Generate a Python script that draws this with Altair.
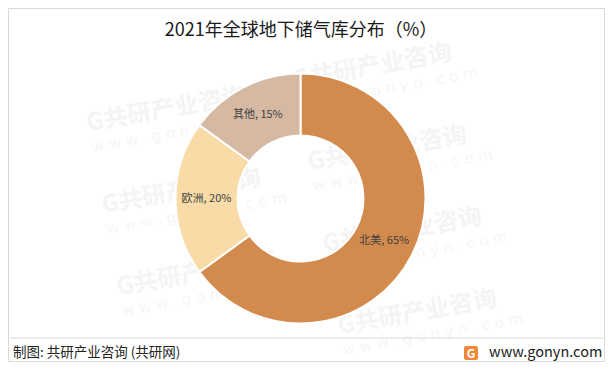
import altair as alt
import pandas as pd

categories = ["北美", "欧洲", "其他"]
shares = [65, 20, 15]
colors = ["#D38B4D", "#F8DBA7", "#D5B9A3"]
title_text = "2021年全球地下储气库分布（%）"
source_text = "制图: 共研产业咨询 (共研网)"
site_text = "www.gonyn.com"
wm_text = "G共研产业咨询"
wm_url = "w w w . g o n y n . c o m"

# watermark anchors (decoration, page pixels)
wm_x = [79, 94, 109, 285, 300, 315, 330]
wm_y = [116, 198, 280, 73, 155, 237, 319]

df = pd.DataFrame({"cat": categories, "share": shares, "order": list(range(len(categories)))})
df["label"] = [f"{c}, {v}%" for c, v in zip(categories, shares)]
wm = pd.DataFrame({"x": wm_x, "y": wm_y})
wm["ux"] = wm["x"] + 5
wm["uy"] = wm["y"] + 23

W, H = 597, 354
CX, CY = 292.5, 190.5
FONT = "Noto Sans CJK SC"
one = alt.Data(values=[{"a": 1}])

wm_main = alt.Chart(wm).mark_text(
    fontSize=24, font=FONT, fontWeight="bold", color="#F4F4F4", align="left", baseline="middle", angle=350
).encode(x=alt.X("x:Q", scale=None), y=alt.Y("y:Q", scale=None), text=alt.value(wm_text))
wm_sub = alt.Chart(wm).mark_text(
    fontSize=15, font="DejaVu Sans", color="#F6F6F6", align="left", baseline="middle", angle=350
).encode(x=alt.X("ux:Q", scale=None), y=alt.Y("uy:Q", scale=None), text=alt.value(wm_url))

base = alt.Chart(df).encode(
    theta=alt.Theta("share:Q", stack=True),
    order=alt.Order("order:Q"),
)
arcs = base.mark_arc(innerRadius=63, outerRadius=125, stroke="white", strokeWidth=2).encode(
    color=alt.Color("cat:N", scale=alt.Scale(domain=categories, range=colors), legend=None),
    x=alt.value(CX), y=alt.value(CY),
)
labels = base.mark_text(radius=94, fontSize=11, font=FONT, color="#404040").encode(
    text="label:N", x=alt.value(CX), y=alt.value(CY),
)

title = alt.Chart(one).mark_text(fontSize=18, font=FONT, color="#1a1a1a", baseline="middle").encode(
    x=alt.value(293), y=alt.value(23), text=alt.value(title_text))

sep = alt.Chart(one).mark_rule(color="#D9D9D9", strokeWidth=1).encode(
    x=alt.value(2), x2=alt.value(595), y=alt.value(330))

src = alt.Chart(one).mark_text(fontSize=13.5, font=FONT, color="#222222", align="left", baseline="middle").encode(
    x=alt.value(5), y=alt.value(345), text=alt.value(source_text))

site = alt.Chart(one).mark_text(fontSize=14.5, font=FONT, color="#222222", align="left", baseline="middle").encode(
    x=alt.value(481), y=alt.value(345), text=alt.value(site_text))

logo = alt.Chart(one).mark_rect(color="#F0883A", cornerRadius=2).encode(
    x=alt.value(456), x2=alt.value(470), y=alt.value(338), y2=alt.value(352))
logo_g = alt.Chart(one).mark_text(fontSize=12, font=FONT, fontWeight="bold", color="white", baseline="middle").encode(
    x=alt.value(463), y=alt.value(345.5), text=alt.value("G"))

border = alt.Chart(one).mark_rect(fill=None, stroke="#D9D9D9", strokeWidth=1).encode(
    x=alt.value(0.5), x2=alt.value(596.5), y=alt.value(0.5), y2=alt.value(353.5))

chart = alt.layer(wm_main, wm_sub, arcs, labels, title, sep, src, site, logo, logo_g, border).properties(
    width=W, height=H, padding=0, autosize="none"
).configure_view(strokeWidth=0)

chart.save("out.html", embed_options={"renderer": "svg", "actions": False})
